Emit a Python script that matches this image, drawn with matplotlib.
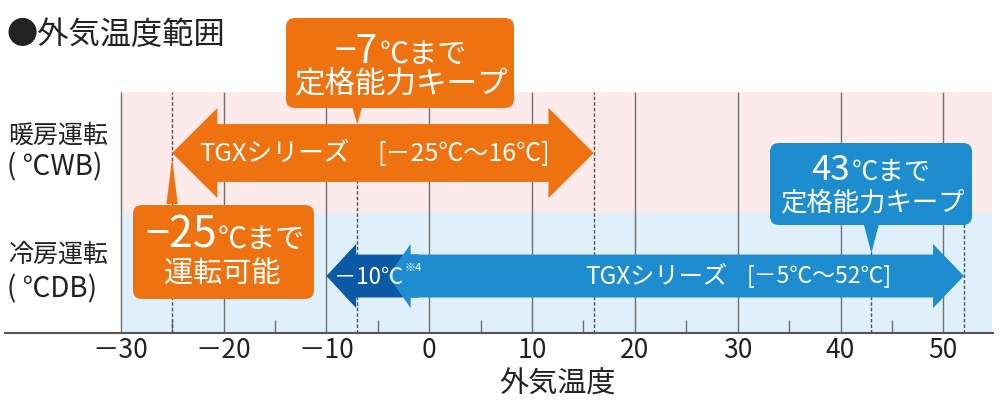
import matplotlib
matplotlib.use('Agg')
import matplotlib.pyplot as plt
from matplotlib.patches import Polygon, FancyBboxPatch
from matplotlib import transforms

plt.rcParams['font.family'] = ['Noto Sans CJK JP', 'DejaVu Sans']

# --- data ---
major_ticks = [-30, -20, -10, 0, 10, 20, 30, 40, 50]
tick_labels = ['－30', '－20', '－10', '0', '10', '20', '30', '40', '50']
minor_ticks = [-25, -15, -5, 5, 15, 25, 35, 45]
heat_range = [-25, 16]          # heating arrow (℃WB)
cool_range = [-4, 52]           # cooling arrow as drawn (℃DB)
cool_ext = -10                  # extended cooling limit (dark arrow)
heat_marks = [-25, -7, 16]      # dashed guide lines, full height
cool_marks = [43, 52]           # dashed guide lines, cooling row only
heat_keep = -7
heat_min = -25
cool_keep = 43

ORANGE = '#ee7310'
BLUE = '#1d8dd0'
DARK = '#0c5aa6'
PINK = '#fdebeb'
SKY = '#dff0fa'
INK = '#222222'

fig = plt.figure(figsize=(10, 4.2), dpi=100)
ax = fig.add_axes([0.005, 0.2071, 0.988, 0.5738])
ax.set_xlim(-41.25, 54.83)
ax.set_ylim(0, 1)

# pixel coords of the picture (origin top-left)
px = transforms.Affine2D().scale(1 / 1000, -1 / 420).translate(0, 1) + fig.transFigure

# background bands
ax.fill_between([-30, 54.73], 0.5, 1, color=PINK, lw=0, zorder=0)
ax.fill_between([-30, 54.73], 0, 0.5, color=SKY, lw=0, zorder=0)

ax.vlines(major_ticks, 0, 1, colors='#707070', lw=1.0, zorder=1)
ax.vlines(minor_ticks, 0, 0.054, colors='#707070', lw=1.0, zorder=1)
ax.vlines(heat_marks, 0, 1, colors='#505050', lw=1.0, linestyles=(0, (2.5, 1.5)), zorder=1)
ax.vlines(cool_marks, 0, 0.5, colors='#505050', lw=1.0, linestyles=(0, (2.5, 1.5)), zorder=1)

for s in ['top', 'left', 'right']:
    ax.spines[s].set_visible(False)
ax.spines['bottom'].set_color('#555555')
ax.spines['bottom'].set_linewidth(1.5)
ax.set_yticks([])
ax.set_xticks(major_ticks, tick_labels)
ax.tick_params(axis='x', length=0, pad=3, labelsize=19, colors=INK)


def double_arrow(x0, x1, yc, body, head, hl0, hl1, color, z):
    pts = [(x0, yc), (x0 + hl0, yc + head), (x0 + hl0, yc + body),
           (x1 - hl1, yc + body), (x1 - hl1, yc + head), (x1, yc),
           (x1 - hl1, yc - head), (x1 - hl1, yc - body),
           (x0 + hl0, yc - body), (x0 + hl0, yc - head)]
    ax.add_patch(Polygon(pts, closed=True, color=color, lw=0, zorder=z))


# heating arrow
double_arrow(heat_range[0], heat_range[1], 0.747, 0.120, 0.187, 4.4, 4.4, ORANGE, 3)
# cooling: dark extension then main arrow
double_arrow(cool_ext, cool_range[0] + 3, 0.2365, 0.089, 0.133, 2.9, 0, DARK, 3)
double_arrow(cool_range[0], cool_range[1], 0.2365, 0.089, 0.133, 2.2, 3.0, BLUE, 4)

ax.text(199, 154, 'TGXシリーズ', transform=px, color='white',
        fontsize=18.5, ha='left', va='center', zorder=6)
ax.text(377, 154, '[－25℃〜16℃]', transform=px, color='white',
        fontsize=18, ha='left', va='center', zorder=6)
ax.text(585, 277, 'TGXシリーズ', transform=px, color='white',
        fontsize=17.5, ha='left', va='center', zorder=6)
ax.text(747, 277, '[－5℃〜52℃]', transform=px, color='white',
        fontsize=16.5, ha='left', va='center', zorder=6)
ax.text(334, 277, '－10℃', transform=px, color='white', fontsize=16,
        ha='left', va='center', zorder=6)
ax.text(405, 268, '※4', transform=px, color='white', fontsize=8,
        ha='left', va='center', zorder=6)


def callout(x0, y0, x1, y1, color):
    box = FancyBboxPatch((x0, y0), x1 - x0, y1 - y0,
                         boxstyle='round,pad=0,rounding_size=9',
                         transform=px, color=color, lw=0, zorder=7, clip_on=False)
    ax.add_patch(box)


def pointer(x, y_base, y_tip, half, color):
    ax.add_patch(Polygon([(x - half, y_base), (x + half, y_base), (x, y_tip)],
                         closed=True, color=color, lw=0, zorder=7, clip_on=False))


# -7℃ callout
callout(286, 18, 514, 108, ORANGE)
pointer(heat_keep, 0.94, 0.867, 0.5, ORANGE)
ax.text(378, 63, '−7', transform=px, color='white', fontsize=28, ha='right',
        va='baseline', zorder=8)
ax.text(380, 63, '℃まで', transform=px, color='white', fontsize=21, ha='left',
        va='baseline', zorder=8)
ax.text(402, 84, '定格能力キープ', transform=px, color='white', fontsize=22,
        ha='center', va='center', zorder=8)

# -25℃ callout
callout(133, 205, 314, 299, ORANGE)
pointer(heat_min, 0.535, 0.726, 0.55, ORANGE)
ax.text(217, 248, '−25', transform=px, color='white', fontsize=31, ha='right',
        va='baseline', zorder=8)
ax.text(218, 248, '℃まで', transform=px, color='white', fontsize=21, ha='left',
        va='baseline', zorder=8)
ax.text(222, 275, '運転可能', transform=px, color='white', fontsize=21,
        ha='center', va='center', zorder=8)

# 43℃ callout
callout(770, 143, 972, 225, BLUE)
pointer(cool_keep, 0.45, 0.332, 0.73, BLUE)
ax.text(850, 180, '43', transform=px, color='white', fontsize=25, ha='right',
        va='baseline', zorder=8)
ax.text(852, 180, '℃まで', transform=px, color='white', fontsize=19, ha='left',
        va='baseline', zorder=8)
ax.text(872, 203, '定格能力キープ', transform=px, color='white', fontsize=19,
        ha='center', va='center', zorder=8)

# row labels, title, axis label
fig.text(7, 35, '●外気温度範囲', transform=px, fontsize=22.5, ha='left', va='center', color=INK)
fig.text(8, 136, '暖房運転', transform=px, fontsize=18, ha='left', va='center', color=INK)
fig.text(7, 167, '( ℃WB)', transform=px, fontsize=20, ha='left', va='center', color=INK)
fig.text(8, 255, '冷房運転', transform=px, fontsize=18, ha='left', va='center', color=INK)
fig.text(7, 289, '( ℃DB)', transform=px, fontsize=20, ha='left', va='center', color=INK)
fig.text(558, 385, '外気温度', transform=px, fontsize=21, ha='center', va='center', color=INK)

fig.savefig('out.png', dpi=100)
